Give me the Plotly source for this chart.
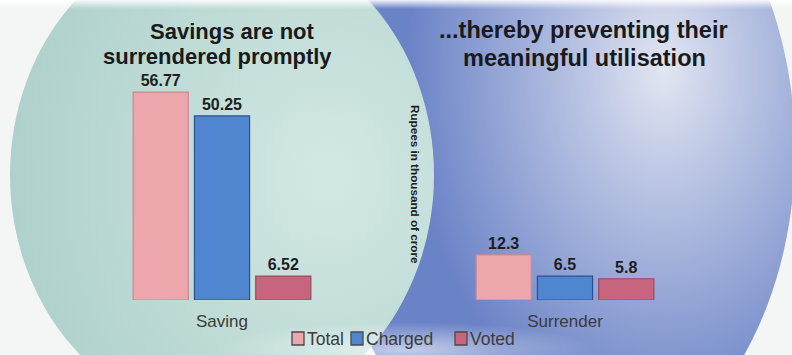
import base64
import plotly.graph_objects as go

# --- data -------------------------------------------------------------
categories = ["Saving", "Surrender"]
total = [56.77, 12.3]
charged = [50.25, 6.5]
voted = [6.52, 5.8]

series_names = ["Total", "Charged", "Voted"]
series_values = [total, charged, voted]
series_fill = ["#eca6ac", "#4f86cf", "#c6657d"]
series_edge = ["#c98a90", "#2c4f92", "#9c4a62"]

title_left = ["Savings are not", "surrendered promptly"]
title_right = ["...thereby preventing their", "meaningful utilisation"]
unit_note = "Rupees in thousand of crore"

# --- geometry helpers -----------------------------------------------------
W, H = 792, 355
M_T, M_B = 7, 55
PLOT_H = H - M_T - M_B


def py(pix):
    """Convert a pixel row (from top of figure) to paper y."""
    return (H - M_B - pix) / PLOT_H


def px(pix):
    return pix / W


# --- background artwork (two overlapping discs) ------------------------------
svg = f"""<svg xmlns='http://www.w3.org/2000/svg' width='{W}' height='{H}' viewBox='0 0 {W} {H}' preserveAspectRatio='none'>
<defs>
<radialGradient id='blue' cx='0.72' cy='0.38' r='0.55'>
<stop offset='0' stop-color='#e2e6f2'/>
<stop offset='0.3' stop-color='#bcc6e4'/>
<stop offset='1' stop-color='#6a82c6'/>
</radialGradient>
<radialGradient id='teal' cx='0.75' cy='0.5' r='0.75'>
<stop offset='0' stop-color='#d3e8e3'/>
<stop offset='1' stop-color='#afd1cc'/>
</radialGradient>
<radialGradient id='glow' cx='0.5' cy='0.5' r='0.5'>
<stop offset='0' stop-color='#ffffff' stop-opacity='0.6'/>
<stop offset='1' stop-color='#ffffff' stop-opacity='0'/>
</radialGradient>
<linearGradient id='top' x1='0' y1='0' x2='0' y2='1'>
<stop offset='0' stop-color='#ffffff' stop-opacity='0.9'/>
<stop offset='1' stop-color='#ffffff' stop-opacity='0'/>
</linearGradient>
</defs>
<rect x='0' y='0' width='{W}' height='{H}' fill='#f4f5f5'/>
<ellipse cx='560' cy='150' rx='235' ry='330' fill='url(#blue)'/>
<ellipse cx='222' cy='175' rx='212' ry='242' fill='url(#teal)'/>
<ellipse cx='405' cy='350' rx='190' ry='28' fill='url(#glow)'/>
<rect x='0' y='0' width='{W}' height='9' fill='url(#top)'/>
</svg>"""
bg_uri = "data:image/svg+xml;base64," + base64.b64encode(svg.encode()).decode()

# --- figure ---------------------------------------------------------------
fig = go.Figure()
for name, vals, fill, edge in zip(series_names, series_values, series_fill, series_edge):
    fig.add_trace(
        go.Bar(
            name=name,
            x=categories,
            y=vals,
            text=[f"{v:g}" for v in vals],
            textposition="outside",
            textfont=dict(family="Liberation Sans, Arial", size=16, color="#1e1e1e", weight=700),
            marker=dict(color=fill, line=dict(color=edge, width=1.2)),
            cliponaxis=False,
            showlegend=False,
        )
    )

# category spacing: 343 px per category, Saving centred at 222 px
unit = 343.0
x_lo = -222.0 / unit
x_hi = (W - 222.0) / unit

annotations = []
for text, cx, cy, size in [
    (title_left[0], 233, 31, 22),
    (title_left[1], 217, 56, 22),
    (title_right[0], 583, 30, 23.5),
    (title_right[1], 584, 58, 23.5),
]:
    annotations.append(
        dict(text=text, xref="paper", yref="paper", x=px(cx), y=py(cy),
             xanchor="center", yanchor="middle", showarrow=False,
             font=dict(family="Liberation Sans, Arial", size=size,
                       color="#1a1a1a", weight=700))
    )
annotations.append(
    dict(text=unit_note, xref="paper", yref="paper",
         x=px(416), y=py(184), xanchor="center", yanchor="middle",
         textangle=90, showarrow=False,
         font=dict(family="Liberation Sans, Arial", size=11.7, color="#202020", weight=700))
)

# hand-placed key: swatch + name for each series
shapes = []
key_x = [292, 351, 455]
for name, fill, x0 in zip(series_names, series_fill, key_x):
    shapes.append(
        dict(type="rect", xref="paper", yref="paper",
             x0=px(x0), x1=px(x0 + 12), y0=py(345), y1=py(332),
             fillcolor=fill, line=dict(color="#4a4a4a", width=1.3))
    )
    annotations.append(
        dict(text=name, xref="paper", yref="paper", x=px(x0 + 13), y=py(339),
             xanchor="left", yanchor="middle", showarrow=False,
             font=dict(family="Liberation Sans, Arial", size=17.5, color="#3c3c3c"))
    )

fig.update_layout(
    width=W,
    height=H,
    margin=dict(l=0, r=0, t=M_T, b=M_B, pad=0),
    paper_bgcolor="#f4f5f5",
    plot_bgcolor="rgba(0,0,0,0)",
    barmode="group",
    bargap=0.464,
    bargroupgap=0.1,
    font=dict(family="Liberation Sans, Arial", color="#333333"),
    showlegend=False,
    xaxis=dict(
        range=[x_lo, x_hi],
        showgrid=False,
        zeroline=False,
        showline=False,
        ticks="",
        tickfont=dict(size=17, color="#3a3a3a"),
        ticklabelstandoff=9,
        fixedrange=True,
    ),
    yaxis=dict(range=[0, 80], visible=False, fixedrange=True),
    images=[
        dict(
            source=bg_uri,
            xref="paper",
            yref="paper",
            x=0,
            y=py(0),
            sizex=1,
            sizey=H / PLOT_H,
            xanchor="left",
            yanchor="top",
            sizing="stretch",
            layer="below",
        )
    ],
    shapes=shapes,
    annotations=annotations,
)

fig.write_html("out.html")
